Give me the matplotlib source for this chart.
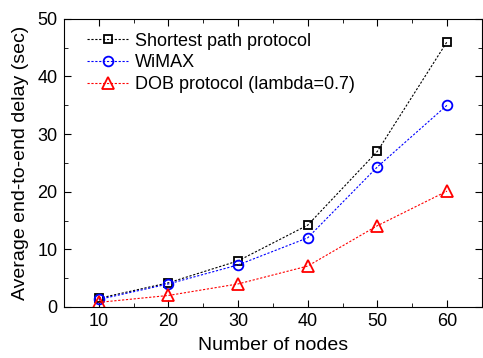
import matplotlib
matplotlib.use('Agg')
import matplotlib.pyplot as plt
from matplotlib.ticker import MultipleLocator

plt.rcParams['font.family'] = ['Liberation Sans', 'DejaVu Sans']

# data
nodes = [10, 20, 30, 40, 50, 60]
shortest = [1.5, 4.2, 8.0, 14.2, 27.0, 46.0]
wimax = [1.3, 4.0, 7.3, 12.0, 24.3, 35.0]
dob = [0.8, 2.0, 4.0, 7.1, 14.1, 20.1]

fig = plt.figure(figsize=(4.83, 3.58), dpi=100)
ax = fig.add_axes([0.1325, 0.1425, 0.865, 0.805])

ax.plot(nodes, shortest, ls=(0, (2, 1.5)), lw=0.8, color='black', marker='s',
        ms=6, mfc='none', mew=1.3, label='Shortest path protocol')
ax.plot(nodes, wimax, ls=(0, (2, 1.5)), lw=0.8, color='blue', marker='o',
        ms=7, mfc='none', mew=1.3, label='WiMAX')
ax.plot(nodes, dob, ls=(0, (2, 1.5)), lw=0.8, color='red', marker='^',
        ms=8, mfc='none', mew=1.3, label='DOB protocol (lambda=0.7)')

ax.set_xlim(5, 65)
ax.set_ylim(0, 50)
ax.xaxis.set_major_locator(MultipleLocator(10))
ax.xaxis.set_minor_locator(MultipleLocator(5))
ax.yaxis.set_major_locator(MultipleLocator(10))
ax.yaxis.set_minor_locator(MultipleLocator(5))
ax.tick_params(which='both', direction='in', top=True, right=True, labelsize=13)
ax.tick_params(which='major', length=5, pad=4.5)
ax.tick_params(which='minor', length=3)

ax.set_xlabel('Number of nodes', fontsize=14, labelpad=5)
ax.set_ylabel('Average end-to-end delay (sec)', fontsize=14, labelpad=6)

ax.legend(loc='upper left', bbox_to_anchor=(0.042, 0.971), frameon=False,
          fontsize=13, handlelength=2.3, borderaxespad=0, labelspacing=0.27,
          handletextpad=0.35, borderpad=0.3)

fig.savefig('out.png', dpi=100)
